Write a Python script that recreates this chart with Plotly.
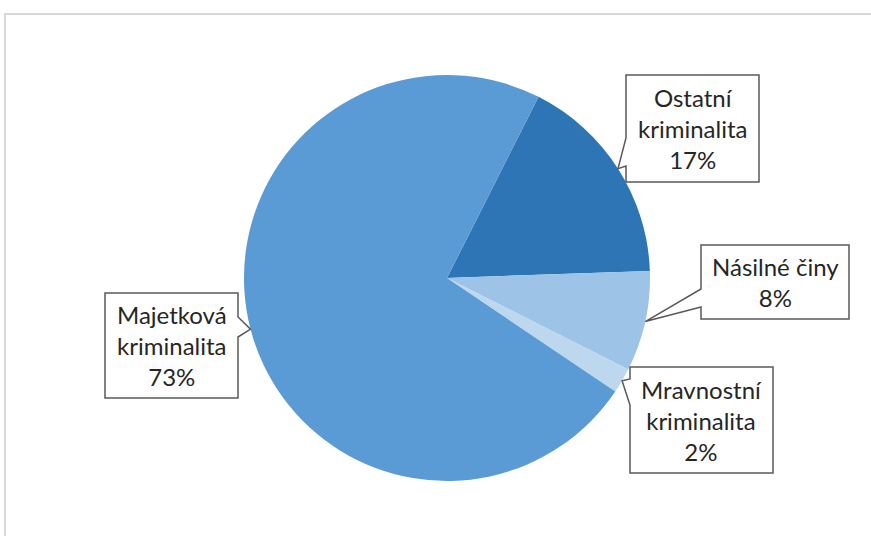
import math
import plotly.graph_objects as go

# ---- data ----
categories = ["Ostatní kriminalita", "Násilné činy", "Mravnostní kriminalita", "Majetková kriminalita"]
label_lines = [["Ostatní", "kriminalita"], ["Násilné činy"], ["Mravnostní", "kriminalita"], ["Majetková", "kriminalita"]]
values = [17, 8, 2, 73]
colors = ["#2E75B6", "#9DC3E6", "#BDD7EE", "#5B9BD5"]

W, H = 871, 536
ROT = 26.8
CX, CY, R = 447, 278, 203  # pie centre/radius in px (layout)

# callout boxes (px): x0, y0, x1, y1, side of wedge, wedge base offsets along side
boxes = [
    (626, 75, 759, 182, "left", 138, 166),
    (701, 245, 849, 319, "left", 289, 307),
    (630, 367, 773, 473, "left", 379, 405),
    (105, 293, 238, 398, "right", 317, 337),
]


def px(x):
    return x / W


def py(y):
    return 1 - y / H


fig = go.Figure(go.Pie(
    labels=categories, values=values, sort=False, direction="clockwise",
    rotation=ROT, marker=dict(colors=colors, line=dict(width=0)),
    textinfo="none", hoverinfo="label+percent", showlegend=False,
    domain=dict(x=[px(CX - R), px(CX + R)], y=[py(CY + R), py(CY - R)]),
))

shapes = [dict(type="rect", xref="paper", yref="paper",
               x0=px(5), y0=py(14), x1=px(W + 20), y1=py(H + 20),
               line=dict(color="#D9D9D9", width=2), fillcolor="rgba(0,0,0,0)", layer="below")]
annotations = []
total = sum(values)
cum = 0
for v, lines, (x0, y0, x1, y1, side, b0, b1) in zip(values, label_lines, boxes):
    mid = ROT + (cum + v / 2) / total * 360
    cum += v
    a = math.radians(mid)
    tx = CX + R * math.sin(a)
    ty = CY - R * math.cos(a)
    if side == "left":
        pts = [(x0, y0), (x1, y0), (x1, y1), (x0, y1), (x0, b1), (tx, ty), (x0, b0)]
    else:
        pts = [(x0, y0), (x1, y0), (x1, b0), (tx, ty), (x1, b1), (x1, y1), (x0, y1)]
    path = "M " + " L ".join(f"{px(x):.5f},{py(y):.5f}" for x, y in pts) + " Z"
    shapes.append(dict(type="path", xref="paper", yref="paper", path=path,
                       line=dict(color="#595959", width=1.5), fillcolor="white"))
    pct = round(v / total * 100)
    text = "<br>".join(lines + [f"{pct}%"])
    annotations.append(dict(x=px((x0 + x1) / 2), y=py((y0 + y1) / 2), xref="paper", yref="paper",
                            xanchor="center", yanchor="middle",
                            text=text, showarrow=False, align="center",
                            font=dict(family="Lato", size=24, color="#262626")))

fig.update_layout(width=W, height=H, margin=dict(l=0, r=0, t=0, b=0),
                  paper_bgcolor="white", plot_bgcolor="white",
                  shapes=shapes, annotations=annotations)
fig.write_html("out.html", config={"displayModeBar": False},
               post_script="document.body.style.margin='0';document.body.style.overflow='hidden';")
